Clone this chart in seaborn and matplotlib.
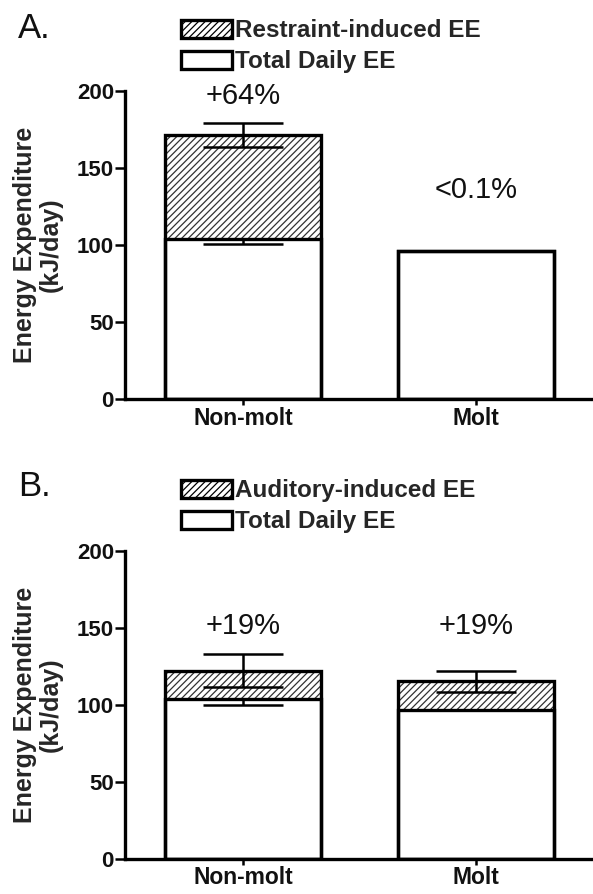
import numpy as np
import pandas as pd
import matplotlib
matplotlib.use("Agg")
import matplotlib.pyplot as plt
import seaborn as sns
from matplotlib.patches import Patch

# ---------------- data ----------------
categories = ["Non-molt", "Molt"]
y_ticks = [0, 50, 100, 150, 200]

# Panel A (restraint)
a_total_daily = [104, 96]
a_total_daily_err = [3.5, np.nan]
a_induced = [67.4, 0.0]
a_combined_err = [7.6, np.nan]
a_pct = ["+64%", "<0.1%"]
a_pct_y = [197, 136]
a_induced_label = "Restraint-induced EE"

# Panel B (auditory)
b_total_daily = [104, 97]
b_total_daily_err = [4.2, np.nan]
b_induced = [18.3, 18.3]
b_combined_err = [10.8, 6.7]
b_pct = ["+19%", "+19%"]
b_pct_y = [151.5, 151.5]
b_induced_label = "Auditory-induced EE"

total_label = "Total Daily EE"

# ---------------- style ----------------
sns.set_style("ticks")
plt.rcParams["font.family"] = ["Liberation Sans", "DejaVu Sans"]
plt.rcParams["hatch.linewidth"] = 0.9

BAR_W = 0.667
LW = 2.4


def panel(ax, base, base_err, induced, top_err, pct, pct_y, induced_label):
    base = np.asarray(base, float)
    top = base + np.asarray(induced, float)
    df = pd.DataFrame({"group": categories, "base": base, "top": top})
    xs = np.arange(len(categories))

    # hatched induced part (full height, covered below by the white base bar)
    sns.barplot(data=df, x="group", y="top", color="white", saturation=1,
                edgecolor="#333333", hatch="/////", linewidth=0, width=BAR_W,
                errorbar=None, ax=ax, zorder=1)
    # white total-daily bar
    sns.barplot(data=df, x="group", y="base", color="white", saturation=1,
                edgecolor="black", linewidth=LW, width=BAR_W,
                errorbar=None, ax=ax, zorder=2)
    # outline of the stacked bar
    sns.barplot(data=df, x="group", y="top", fill=False, color="black",
                linewidth=LW, width=BAR_W, errorbar=None, ax=ax, zorder=3)

    be = np.asarray(base_err, float)
    m = ~np.isnan(be)
    ax.errorbar(xs[m], base[m], yerr=[be[m], np.zeros(m.sum())], fmt="none",
                ecolor="black", elinewidth=1.8, capsize=28.5, capthick=1.8,
                zorder=4)
    te = np.asarray(top_err, float)
    m = ~np.isnan(te)
    ax.errorbar(xs[m], top[m], yerr=te[m], fmt="none", ecolor="black",
                elinewidth=1.8, capsize=28.5, capthick=1.8, zorder=4)

    for x, t, y in zip(xs, pct, pct_y):
        ax.text(x, y, t, ha="center", va="center", fontsize=21, color="#111111")

    ax.set_ylim(0, 200)
    ax.set_yticks(y_ticks)
    ax.set_xlim(-0.505, 1.5)
    ax.set_xlabel("")
    ax.set_ylabel("Energy Expenditure\n(kJ/day)", fontsize=18,
                  fontweight="bold", linespacing=1.1)
    ax.yaxis.set_label_coords(-0.133, 0.5)
    ax.tick_params(axis="y", length=7, width=1.8, pad=1, labelsize=16,
                   color="black", labelcolor="#111111")
    ax.tick_params(axis="x", length=4, width=1.8, pad=1.5, labelsize=16.5,
                   color="black", labelcolor="#111111")
    for lbl in ax.get_xticklabels() + ax.get_yticklabels():
        lbl.set_fontweight("bold")
    sns.despine(ax=ax)
    for s in ("left", "bottom"):
        ax.spines[s].set_linewidth(LW)
        ax.spines[s].set_color("black")

    handles = [
        Patch(facecolor="white", edgecolor="black", hatch="/////",
              linewidth=LW, label=induced_label),
        Patch(facecolor="white", edgecolor="black", linewidth=LW,
              label=total_label),
    ]
    ax.legend(handles=handles, loc="lower left", bbox_to_anchor=(0.12, 1.058),
              frameon=False, prop={"size": 17.5, "weight": "bold"},
              handlelength=2.1, handleheight=0.75, handletextpad=0.12,
              labelspacing=0.33, borderpad=0, borderaxespad=0)


fig = plt.figure(figsize=(5.93, 8.94), dpi=100)
axA = fig.add_axes([0.2108, 0.5537, 0.7892, 0.3445])
axB = fig.add_axes([0.2108, 0.0395, 0.7892, 0.3440])

panel(axA, a_total_daily, a_total_daily_err, a_induced, a_combined_err,
      a_pct, a_pct_y, a_induced_label)
panel(axB, b_total_daily, b_total_daily_err, b_induced, b_combined_err,
      b_pct, b_pct_y, b_induced_label)

fig.text(18 / 593, 1 - 38 / 894, "A.", fontsize=25, va="baseline", color="#111111")
fig.text(18 / 593, 1 - 496 / 894, "B.", fontsize=25, va="baseline", color="#111111")

fig.savefig("out.png", dpi=100)
